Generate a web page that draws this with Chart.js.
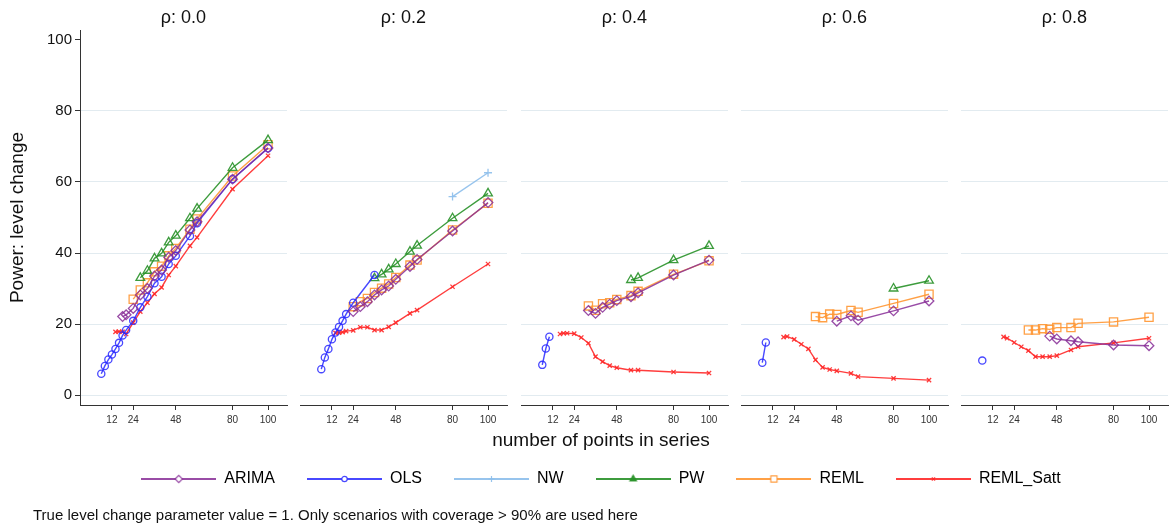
<!DOCTYPE html>
<html>
<head>
<meta charset="utf-8">
<script src="https://cdn.jsdelivr.net/npm/chart.js@4.4.0/dist/chart.umd.min.js"></script>
<style>
  body { margin: 0; background: #fff; width: 1172px; height: 529px; position: relative; overflow: hidden; font-family: "Liberation Sans", Arial, sans-serif; color: #111; }
  .panel { position: absolute; top: 0; }
  .rho { position: absolute; top: 6px; width: 207px; text-align: center; font-size: 18px; line-height: 22px; }
  #xTitle { position: absolute; left: 0; width: 1202px; top: 429px; text-align: center; font-size: 19px; }
  #nota { position: absolute; left: 33px; top: 506px; font-size: 15px; }
</style>
</head>
<body>
<canvas id="p0" class="panel" width="367" height="440"></canvas>
<canvas id="p1" class="panel" width="367" height="440"></canvas>
<canvas id="p2" class="panel" width="367" height="440"></canvas>
<canvas id="p3" class="panel" width="367" height="440"></canvas>
<canvas id="p4" class="panel" width="367" height="440"></canvas>
<canvas id="leyenda" width="1172" height="200" style="position:absolute;left:0;top:439px"></canvas>
<div id="xTitle">number of points in series</div>
<div id="nota">True level change parameter value = 1. Only scenarios with coverage &gt; 90% are used here</div>
<script>
// valores, una fila por rho, una columna por numero de puntos
const rhoLabels = ["0.0", "0.2", "0.4", "0.6", "0.8"];
const xTicks = [12, 24, 48, 80, 100];
const yTicks = [0, 20, 40, 60, 80, 100];
const nPoints = [6, 8, 10, 12, 14, 16, 18, 20, 24, 28, 32, 36, 40, 44, 48, 56, 60, 80, 100];
const _ = null;

const arima = [
  [_, _, _, _, _, _, 22.1, 22.6, 24.4, 28.2, 30.0, 33.5, 35.2, 38.8, 40.7, 46.5, 48.8, 60.8, 69.6],
  [_, _, _, _, _, _, _, _, 23.5, 24.9, 26.3, 28.2, 29.6, 30.7, 32.6, 36.2, 38.2, 46.2, 54.2],
  [_, _, _, _, _, _, _, _, _, _, 23.8, 23.0, 24.7, 25.6, 26.6, 27.7, 28.8, 33.8, 38.0],
  [_, _, _, _, _, _, _, _, _, _, _, _, _, _, 20.8, 22.3, 21.1, 23.7, 26.5],
  [_, _, _, _, _, _, _, _, _, _, _, _, _, 16.6, 15.8, 15.3, 15.0, 14.1, 13.9]
];
const ols = [
  [6.0, 8.2, 10.0, 11.4, 13.0, 14.7, 16.8, 18.3, 20.9, 24.7, 27.7, 31.5, 33.3, 36.9, 39.2, 44.8, 48.4, 60.8, 69.5],
  [7.3, 10.6, 13.0, 15.7, 17.6, 19.2, 20.9, 22.8, 26.0, _, _, 33.8, _, _, _, _, _, _, _],
  [8.5, 13.1, 16.4, _, _, _, _, _, _, _, _, _, _, _, _, _, _, _, _],
  [9.1, 14.8, _, _, _, _, _, _, _, _, _, _, _, _, _, _, _, _, _],
  [9.7, _, _, _, _, _, _, _, _, _, _, _, _, _, _, _, _, _, _]
];
const nw = [
  [_, _, _, _, _, _, _, _, _, _, _, _, _, _, _, _, _, _, _],
  [_, _, _, _, _, _, _, _, _, _, _, _, _, _, _, _, _, 55.9, 62.6],
  [_, _, _, _, _, _, _, _, _, _, _, _, _, _, _, _, _, _, _],
  [_, _, _, _, _, _, _, _, _, _, _, _, _, _, _, _, _, _, _],
  [_, _, _, _, _, _, _, _, _, _, _, _, _, _, _, _, _, _, _]
];
const pw = [
  [_, _, _, _, _, _, _, _, _, 33.0, 35.0, 38.5, 39.9, 43.0, 44.9, 49.8, 52.5, 64.0, 71.8],
  [_, _, _, _, _, _, _, _, _, _, _, 32.9, 34.0, 35.4, 36.9, 40.4, 42.1, 49.8, 56.8],
  [_, _, _, _, _, _, _, _, _, _, _, _, _, _, _, 32.4, 33.0, 38.0, 42.0],
  [_, _, _, _, _, _, _, _, _, _, _, _, _, _, _, _, _, 30.0, 32.2],
  [_, _, _, _, _, _, _, _, _, _, _, _, _, _, _, _, _, _, _]
];
const reml = [
  [_, _, _, _, _, _, _, _, 27.0, 29.6, 31.6, 34.7, 36.3, 39.2, 41.3, 46.7, 49.6, 61.7, 70.5],
  [_, _, _, _, _, _, _, _, 24.9, 26.3, 27.2, 28.9, 30.1, 31.3, 33.1, 36.6, 38.0, 46.5, 54.0],
  [_, _, _, _, _, _, _, _, _, _, 25.1, 23.9, 25.7, 26.0, 26.9, 28.0, 29.2, 34.0, 37.8],
  [_, _, _, _, _, _, _, _, _, _, _, 22.1, 21.8, 22.8, 22.7, 23.8, 23.3, 25.8, 28.4],
  [_, _, _, _, _, _, _, _, _, _, 18.3, 18.3, 18.7, 18.5, 19.0, 19.0, 20.2, 20.6, 21.9]
];
const remlSatt = [
  [_, _, _, _, 17.8, 17.9, 17.8, 17.2, 20.4, 23.5, 26.0, 28.5, 30.3, 33.8, 36.3, 42.0, 44.4, 58.0, 67.4],
  [_, _, _, _, 17.5, 17.6, 17.7, 18.0, 18.2, 19.1, 19.1, 18.3, 18.3, 19.2, 20.4, 23.0, 23.9, 30.5, 36.9],
  [_, _, _, _, _, 17.2, 17.4, 17.4, 17.3, 16.2, 14.6, 10.8, 9.4, 8.3, 7.7, 7.0, 7.0, 6.5, 6.2],
  [_, _, _, _, _, _, 16.3, 16.5, 15.7, 14.3, 13.0, 9.9, 7.8, 7.2, 6.8, 6.1, 5.2, 4.7, 4.2],
  [_, _, _, _, _, _, 16.4, 16.0, 14.8, 13.6, 12.5, 10.8, 10.8, 10.8, 11.1, 12.7, 13.6, 14.7, 16.0]
];

const fuente = "'Liberation Sans', Arial, sans-serif";
Chart.defaults.font.family = fuente;
Chart.defaults.color = "#111";

// estilo de cada serie
const series = [
  { name: "ARIMA", values: arima, color: "rgba(135,45,150,0.85)", style: "rectRot", radius: 4.8 },
  { name: "OLS", values: ols, color: "rgba(40,40,255,0.85)", style: "circle", radius: 3.6 },
  { name: "NW", values: nw, color: "rgba(140,190,235,0.9)", style: "cross", radius: 4 },
  { name: "PW", values: pw, color: "rgba(40,145,40,0.9)", style: "triangle", radius: 5 },
  { name: "REML", values: reml, color: "rgba(255,150,50,0.9)", style: "rect", radius: 5.8 },
  { name: "REML_Satt", values: remlSatt, color: "rgba(255,40,40,0.9)", style: "crossRot", radius: 3 }
];

const panelStep = 220.25;

function puntos(fila) {
  return nPoints.map((n, k) => ({ x: n, y: fila[k] })).filter(p => p.y !== null);
}

function hacerPanel(i) {
  const canvas = document.getElementById("p" + i);
  const izq = Math.round(i * panelStep);
  canvas.style.left = izq + "px";

  // titulo del panel centrado sobre el area de dibujo
  const titulo = document.createElement("div");
  titulo.className = "rho";
  titulo.style.left = (izq + 80) + "px";
  titulo.textContent = "ρ: " + rhoLabels[i];
  document.body.appendChild(titulo);

  const datasets = series.map(s => ({
    label: s.name,
    data: puntos(s.values[i]),
    borderColor: s.color,
    backgroundColor: "rgba(0,0,0,0)",
    borderWidth: 1.4,
    pointStyle: s.style,
    pointRadius: s.radius,
    pointBorderWidth: 1.3,
    pointBorderColor: s.color,
    pointBackgroundColor: "rgba(0,0,0,0)",
    tension: 0,
    fill: false
  }));
  const primero = i === 0;
  new Chart(canvas, {
    type: "line",
    data: { datasets: datasets },
    options: {
      responsive: false,
      animation: false,
      events: [],
      layout: { padding: { left: 0, right: 80, top: 30, bottom: 0 } },
      plugins: {
        legend: { display: false },
        tooltip: { enabled: false }
      },
      scales: {
        x: {
          type: "linear",
          min: -6,
          max: 110.7,
          afterBuildTicks: ax => { ax.ticks = xTicks.map(v => ({ value: v })); },
          afterFit: ax => { ax.height = 35; },
          grid: { drawOnChartArea: false, drawTicks: true, tickLength: 5, tickColor: "#333" },
          border: { display: true, color: "#333", width: 1 },
          ticks: { font: { size: 10 }, color: "#333", padding: 4, maxRotation: 0 }
        },
        y: {
          type: "linear",
          min: -2.8,
          max: 102.8,
          afterBuildTicks: ax => { ax.ticks = yTicks.map(v => ({ value: v })); },
          afterFit: ax => { ax.width = 80; },
          grid: {
            color: c => (c.tick && c.tick.value === 100) ? "rgba(0,0,0,0)" : "#e2ebf0",
            drawTicks: primero,
            tickLength: 5,
            tickColor: "#333"
          },
          border: { display: primero, color: "#333", width: 1 },
          ticks: { display: primero, font: { size: 15 }, color: "#111", padding: 3 },
          title: {
            display: primero,
            text: "Power: level change",
            font: { size: 19 },
            color: "#111",
            padding: { top: 6, bottom: 0 }
          }
        }
      }
    }
  });
}

for (let i = 0; i < rhoLabels.length; i++) {
  hacerPanel(i);
}

// iconos de la leyenda: linea con el marcador al medio
function hacerIcono(s) {
  const c = document.createElement("canvas");
  c.width = 75;
  c.height = 14;
  const ctx = c.getContext("2d");
  ctx.strokeStyle = s.color;
  ctx.lineWidth = 2;
  ctx.beginPath();
  ctx.moveTo(0, 7);
  ctx.lineTo(75, 7);
  ctx.stroke();
  ctx.fillStyle = s.name === "PW" ? s.color : "#fff";
  ctx.lineWidth = 1.2;
  Chart.helpers.drawPoint(ctx, { pointStyle: s.style, radius: s.radius * 0.75, borderWidth: 1.2, rotation: 0 }, 37.5, 7);
  return c;
}

new Chart(document.getElementById("leyenda"), {
  type: "line",
  data: { datasets: series.map(s => ({ label: s.name, data: [], borderColor: s.color })) },
  options: {
    responsive: false,
    animation: false,
    events: [],
    layout: { padding: { left: 30, right: 0 } },
    scales: { x: { display: false }, y: { display: false } },
    plugins: {
      tooltip: { enabled: false },
      legend: {
        display: true,
        position: "top",
        labels: {
          usePointStyle: true,
          pointStyleWidth: 75,
          padding: 32,
          font: { size: 16 },
          color: "#111",
          generateLabels: () => series.map((s, k) => ({
            text: s.name,
            pointStyle: hacerIcono(s),
            fillStyle: s.color,
            strokeStyle: s.color,
            lineWidth: 0,
            hidden: false,
            datasetIndex: k
          }))
        }
      }
    }
  }
});
</script>
</body>
</html>
